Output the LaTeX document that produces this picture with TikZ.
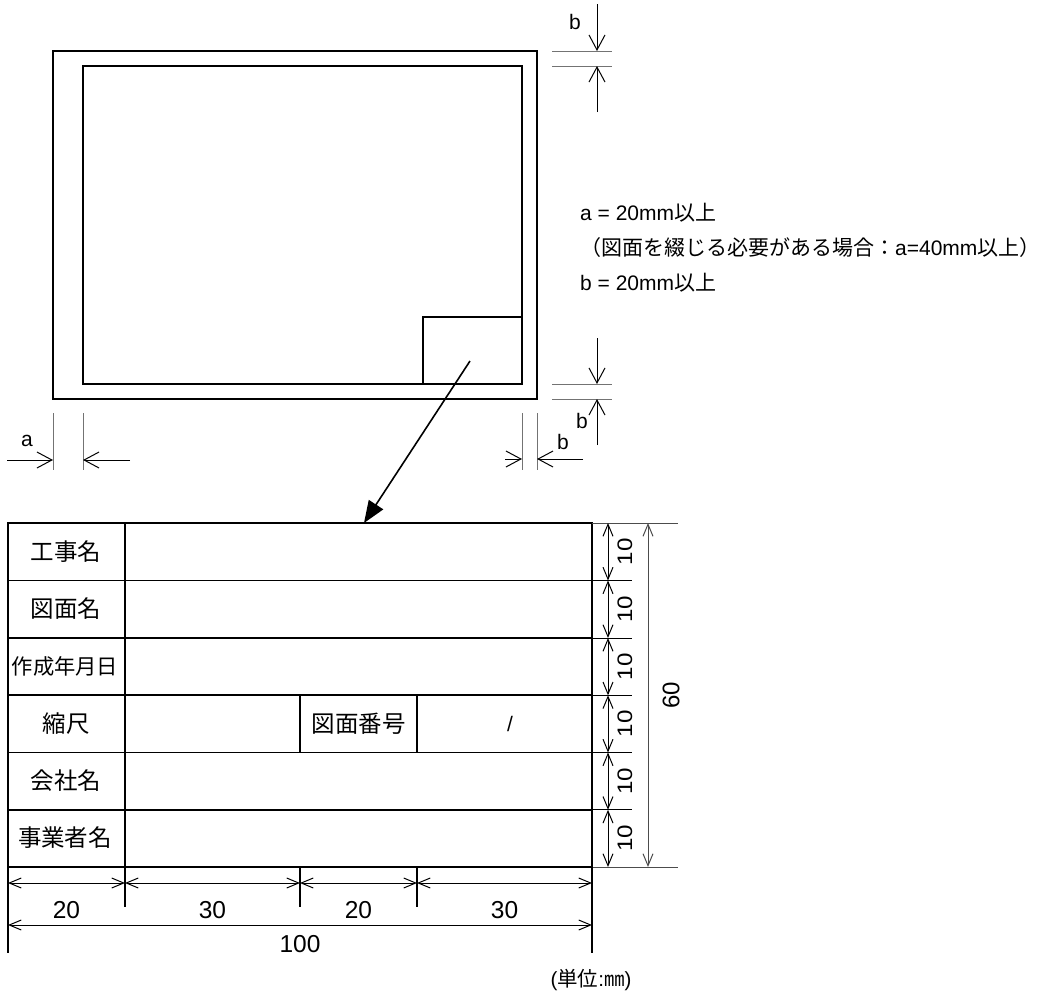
\documentclass[tikz,border=0pt]{standalone}
\usepackage{fontspec}
\setmainfont{Liberation Sans}
\newfontfamily\jp{Noto Sans CJK JP}
\usetikzlibrary{arrows.meta,calc}
\begin{document}
\begin{tikzpicture}[x=1pt,y=-1pt,
  frame/.style={line width=2pt},
  cellline/.style={line width=1.8pt},
  ext/.style={line width=1pt, draw=black!55},
  dimln/.style={line width=1pt},
  smalldim/.style={dimln,{Straight Barb[length=12pt,width=10pt]}-{Straight Barb[length=12pt,width=10pt]}},
  margintip/.style={dimln,-{Straight Barb[length=15pt,width=16pt]}},
  bigarrow/.style={line width=1.6pt,-{Triangle[length=22pt,width=17pt]}},
  lbl/.style={inner sep=0pt, font=\fontsize{21}{25}\selectfont},
  celltext/.style={inner sep=0pt, font=\jp\fontsize{23.5}{27}\selectfont},
  numtext/.style={inner sep=0pt, font=\fontsize{24.5}{28}\selectfont},
  sidenum/.style={inner sep=0pt, font=\fontsize{21}{24}\selectfont},
  note/.style={inner sep=0pt, anchor=west, font=\fontsize{21}{25}\selectfont},
]
\useasboundingbox (0,0) rectangle (1045,994);

% ---------- sheet ----------
\draw[frame] (53,51) rectangle (537,399);
\draw[frame] (83,66) rectangle (522,384);
\draw[frame] (423,317) rectangle (522,384);

% arrow to title block
\coordinate (src) at (470,361);
\coordinate (dst) at (364,523);
\draw[bigarrow] (src) -- (dst);

% ---------- margin b (top) ----------
\draw[ext] (552,51) -- (612,51);
\draw[ext] (552,66) -- (612,66);
\coordinate (bt1) at (597,4);  \coordinate (bt2) at (597,51);
\coordinate (bt3) at (597,112); \coordinate (bt4) at (597,66);
\draw[margintip] (bt1) -- (bt2);
\draw[margintip] (bt3) -- (bt4);
\node[lbl] (lb1) at (575,22) {b};

% ---------- margin b (bottom) ----------
\draw[ext] (552,384) -- (612,384);
\draw[ext] (552,399) -- (612,399);
\coordinate (bb1) at (597,338); \coordinate (bb2) at (597,384);
\coordinate (bb3) at (597,445); \coordinate (bb4) at (597,399);
\draw[margintip] (bb1) -- (bb2);
\draw[margintip] (bb3) -- (bb4);
\node[lbl] (lb2) at (582,421) {b};

% ---------- margin a / b (horizontal) ----------
\draw[ext] (53,413) -- (53,470);
\draw[ext] (83,413) -- (83,470);
\draw[ext] (522,413) -- (522,470);
\draw[ext] (537,413) -- (537,470);
\coordinate (al1) at (7,460);  \coordinate (al2) at (53,460);
\coordinate (al3) at (130,460); \coordinate (al4) at (83,460);
\draw[margintip] (al1) -- (al2);
\draw[margintip] (al3) -- (al4);
\node[lbl] (la) at (27,441) {a};
\coordinate (br1) at (505,459); \coordinate (br2) at (522,459);
\coordinate (br3) at (583,459); \coordinate (br4) at (537,459);
\draw[margintip] (br1) -- (br2);
\draw[margintip] (br3) -- (br4);
\node[lbl] (lb3) at (563,442) {b};

% ---------- notes ----------
\node[note] (n1) at (580,213) {a = 20mm{\jp 以上}};
\node[note] (n2) at (580,248) {{\jp （図面を綴じる必要がある場合：}a=40mm{\jp 以上）}};
\node[note] (n3) at (580,283) {b = 20mm{\jp 以上}};

% ---------- title block ----------
\foreach \i/\y in {0/523,1/580.5,2/638,3/695.3,4/752.5,5/809.8,6/867}{
  \coordinate (L\i) at (8,\y);
  \coordinate (R\i) at (592,\y);
}
\draw[cellline] (L0) rectangle (R6);
\foreach \i in {1,...,5}{ \draw[cellline] (L\i) -- (R\i); }
\draw[cellline] (125,523) -- (125,867);
\draw[cellline] (300,695.3) rectangle (417,752.5);

\node[celltext] (c1) at (66,552) {工事名};
\node[celltext] (c2) at (66,609) {図面名};
\node[celltext, font=\jp\fontsize{21.3}{24}\selectfont] (c3) at (65,666.5) {作成年月日};
\node[celltext] (c4) at (66,724) {縮尺};
\node[celltext] (c5) at (66,781) {会社名};
\node[celltext] (c6) at (65,838) {事業者名};
\node[celltext] (c7) at (358.5,724) {図面番号};
\node[sidenum] (c8) at (510,724) {/};

% ---------- right dimensions ----------
\foreach \i/\y in {0/523,1/580.5,2/638,3/695.3,4/752.5,5/809.8,6/867}{
  \coordinate (D\i) at (608,\y);
}
\draw[ext, draw=black!70] (R0) -- (678,523);
\draw[ext, draw=black!70] (R6) -- (678,867);
\foreach \i in {1,...,5}{ \draw[dimln] (R\i) -- ++(40,0); }
\foreach \a/\b in {0/1,1/2,2/3,3/4,4/5,5/6}{
  \draw[smalldim] (D\a) -- (D\b);
  \node[sidenum, rotate=90, xscale=1.15] (t\a) at ($ (D\a)!0.5!(D\b) + (17,0) $) {10};
}
\coordinate (G0) at (648,523);
\coordinate (G1) at (648,867);
\draw[smalldim, draw=black!70] (G0) -- (G1);
\node[sidenum, font=\fontsize{24}{26}\selectfont, rotate=90] (t60) at (671,695) {60};

% ---------- bottom dimensions ----------
\draw[cellline] (8,867) -- (8,953);
\draw[cellline] (592,867) -- (592,953);
\foreach \x in {125,300,417}{ \draw[cellline] (\x,867) -- (\x,907); }
\coordinate (H0) at (8,883);
\coordinate (H1) at (125,883);
\coordinate (H2) at (300,883);
\coordinate (H3) at (417,883);
\coordinate (H4) at (592,883);
\draw[smalldim] (H0) -- (H1);
\draw[smalldim] (H1) -- (H2);
\draw[smalldim] (H2) -- (H3);
\draw[smalldim] (H3) -- (H4);
\node[numtext] (w1) at (66.5,910) {20};
\node[numtext] (w2) at (212.5,910) {30};
\node[numtext] (w3) at (358.5,910) {20};
\node[numtext] (w4) at (504.5,910) {30};
\coordinate (K0) at (8,925);
\coordinate (K1) at (592,925);
\draw[smalldim] (K0) -- (K1);
\node[numtext] (w5) at (300,944) {100};

\node[inner sep=0pt, font=\fontsize{20.5}{24}\selectfont] (unit) at (591,980) {({\jp 単位}:{\jp ㎜})};
\end{tikzpicture}
\end{document}
